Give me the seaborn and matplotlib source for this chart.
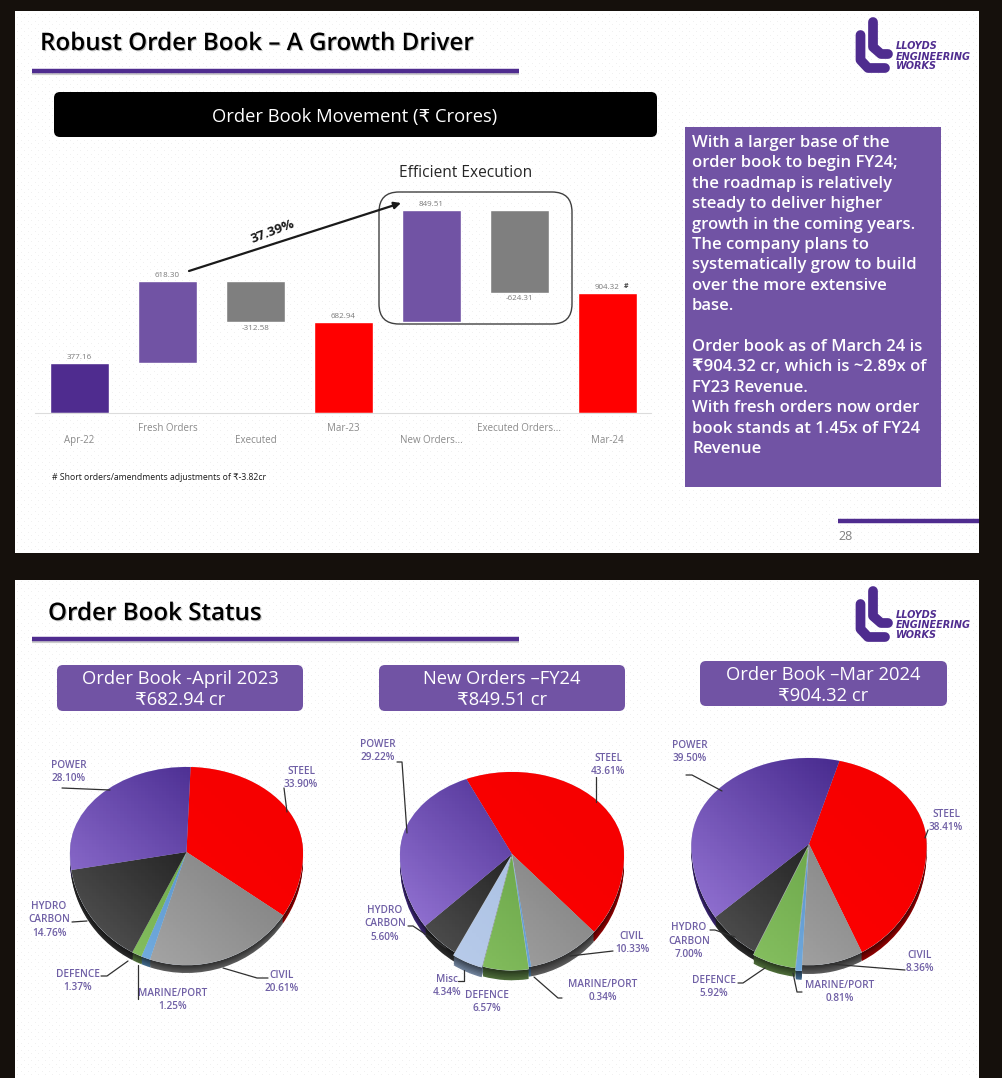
import numpy as np
import pandas as pd
import seaborn as sns
import matplotlib
matplotlib.use("Agg")
import matplotlib.pyplot as plt
import matplotlib.patheffects as pe
from matplotlib.colors import to_rgb
from matplotlib.patches import FancyBboxPatch, Rectangle

W, H = 1003, 1078

# waterfall data
move_cats = ["Apr-22", "Fresh Orders", "Executed", "Mar-23", "New Orders...", "Executed Orders...", "Mar-24"]
move_vals = [377.16, 618.30, -312.58, 682.94, 849.51, -624.31, 904.32]
move_total = [True, False, False, True, False, False, True]
move_cols = ["#4f2c8f", "#7153a4", "#7f7f7f", "#ff0000", "#7153a4", "#7f7f7f", "#ff0000"]

# pie data
pie1_names = ["STEEL", "CIVIL", "MARINE/PORT", "DEFENCE", "HYDRO\nCARBON", "POWER"]
pie1_vals = [33.90, 20.61, 1.25, 1.37, 14.76, 28.10]
pie2_names = ["STEEL", "CIVIL", "MARINE/PORT", "DEFENCE", "Misc", "HYDRO\nCARBON", "POWER"]
pie2_vals = [43.61, 10.33, 0.34, 6.57, 4.34, 5.60, 29.22]
pie3_names = ["STEEL", "CIVIL", "MARINE/PORT", "DEFENCE", "HYDRO\nCARBON", "POWER"]
pie3_vals = [38.41, 8.36, 0.81, 5.92, 7.00, 39.50]

box_lines = [
    "With a larger base of the", "order book to begin FY24;", "the roadmap is relatively",
    "steady to deliver higher", "growth in the coming years.", "The company plans to",
    "systematically grow to build", "over the more extensive", "base.", "",
    "Order book as of March 24 is", "₹904.32 cr, which is ~2.89x of", "FY23 Revenue.",
    "With fresh orders now order", "book stands at 1.45x of FY24", "Revenue",
]

# lower-left colour, upper-right colour, side colour
face = {
    "STEEL": ("#ff0000", "#f60000", "#8c0000"),
    "CIVIL": ("#a8a8a8", "#7a7a7a", "#5a5a5a"),
    "MARINE/PORT": ("#74aee0", "#4f86c0", "#3e6688"),
    "DEFENCE": ("#86c060", "#5f9a40", "#4c6b38"),
    "Misc": ("#b8cbea", "#a3bce0", "#6d7f99"),
    "HYDRO\nCARBON": ("#4e4e4e", "#0a0a0a", "#2a2a2a"),
    "POWER": ("#9272d2", "#472a8e", "#3a2570"),
}

PURPLE = "#7153a4"
DARK = "#4f2c8f"
LABEL = "#6f5fa5"

sns.set_theme(style="white")
plt.rcParams["font.family"] = ["Open Sans", "DejaVu Sans"]

fig = plt.figure(figsize=(W / 100, H / 100), dpi=100)

# slide backgrounds with the faint dotted texture
canvas = np.full((H, W, 3), to_rgb("#15100c"))
yy, xx = np.mgrid[0:H, 0:W]
dots = ((xx % 7 == 0) & (yy % 7 == 0)) | ((xx % 7 == 3) & (yy % 7 == 3))
slide = np.where(dots[..., None], 0.945, 1.0) * np.ones(3)
for y0, y1 in [(11, 553), (580, 1078)]:
    canvas[y0:y1, 15:979] = slide[y0:y1, 15:979]
fig.figimage(canvas, 0, 0, origin="upper", zorder=-1)


def px_axes(x0, y0, x1, y1, **kw):
    ax = fig.add_axes([x0 / W, 1 - y1 / H, (x1 - x0) / W, (y1 - y0) / H], **kw)
    ax.patch.set_alpha(0)
    return ax


bg = px_axes(0, 0, W, H, zorder=1)
bg.set_xlim(0, W)
bg.set_ylim(H, 0)
bg.axis("off")

fg = px_axes(0, 0, W, H, zorder=5)
fg.set_xlim(0, W)
fg.set_ylim(H, 0)
fg.axis("off")


def rounded(x0, y0, x1, y1, r, col):
    bg.add_patch(FancyBboxPatch((x0 + r, y0 + r), x1 - x0 - 2 * r, y1 - y0 - 2 * r,
                                boxstyle=f"round,pad={r},rounding_size={r}", fc=col, ec="none"))


def logo(dy):
    lw = 7.0
    bg.plot([860.5, 860.5, 868, 885], [35 + dy, 60 + dy, 68 + dy, 68 + dy], color=DARK, lw=lw,
            solid_capstyle="round", solid_joinstyle="round")
    bg.plot([873, 873, 881, 888], [22 + dy, 47 + dy, 54 + dy, 54 + dy], color=DARK, lw=lw,
            solid_capstyle="round", solid_joinstyle="round")
    for y, s in [(46, "LLOYDS"), (56.5, "ENGINEERING"), (66, "WORKS")]:
        bg.text(896, y + dy, s, color=DARK, fontsize=7, fontweight="bold", style="italic",
                family="DejaVu Sans", va="center", ha="left")


def title_bar(text, x, y, bar_y):
    bg.text(x, y, text, fontsize=17.4, fontweight="semibold", color="black", va="center",
            path_effects=[pe.withSimplePatchShadow(offset=(0.8, -0.8), alpha=0.25)])
    bg.plot([32, 519], [bar_y + 1.5, bar_y + 1.5], color="#9a9a9a", lw=3, alpha=0.5,
            solid_capstyle="butt")
    bg.plot([32, 519], [bar_y, bar_y], color=DARK, lw=3.2, solid_capstyle="butt")


title_bar("Robust Order Book – A Growth Driver", 40, 44, 71)
title_bar("Order Book Status", 48, 614, 639)
logo(0)
logo(569)

bg.plot([838, 979], [521, 521], color=DARK, lw=3.2, solid_capstyle="butt")
bg.text(846, 537, "28", color="#808080", fontsize=9, ha="center", va="center")

rounded(54, 92, 657, 137, 6, "black")
bg.text(355, 117, "Order Book Movement (₹ Crores)", color="white", fontsize=13.2, ha="center", va="center")
bg.text(466, 173, "Efficient Execution", color="#262626", fontsize=11.2, ha="center", va="center")
bg.text(52, 477, "# Short orders/amendments adjustments of ₹-3.82cr", color="#1a1a1a", fontsize=6.2,
        va="center")

# right hand text box
bg.add_patch(Rectangle((685, 127), 256, 360, fc=PURPLE, ec="none"))
for i, line in enumerate(box_lines):
    bg.text(692, 143 + 20.4 * i, line, color="white", fontsize=12, fontweight="semibold", va="center")

# pill headers
for x0, y0, x1, y1, head, sub in [
    (57, 665, 303, 711, "Order Book -April 2023", "₹682.94 cr"),
    (379, 665, 625, 711, "New Orders –FY24", "₹849.51 cr"),
    (700, 661, 947, 706, "Order Book –Mar 2024", "₹904.32 cr"),
]:
    rounded(x0, y0, x1, y1, 6, PURPLE)
    bg.text((x0 + x1) / 2, y0 + 14, head, color="white", fontsize=13.2, ha="center", va="center")
    bg.text((x0 + x1) / 2, y0 + 35, sub, color="white", fontsize=13.2, ha="center", va="center")

# waterfall
ax = px_axes(35.5, 130, 651.5, 413, zorder=2)
run = 0
bottoms = []
for val, tot in zip(move_vals, move_total):
    if tot:
        bottoms.append(0)
        run = val
    else:
        bottoms.append(run + min(val, 0))
        run += val
for cat, val, bot, col in zip(move_cats, move_vals, bottoms, move_cols):
    sns.barplot(x=[cat], y=[abs(val)], order=move_cats, color=col, saturation=1, width=0.67,
                bottom=bot, errorbar=None, ax=ax)
ax.set_xlim(-0.5, 6.5)
ax.set_ylim(0, 283 * 7.54)
ax.set_xlabel("")
ax.set_ylabel("")
ax.set_yticks([])
ax.set_xticks(range(len(move_cats)))
ax.set_xticklabels(move_cats, fontsize=7, color="#8a8a8a")
ax.tick_params(axis="x", length=0)
for i, tick in enumerate(ax.xaxis.get_major_ticks()):
    tick.set_pad(16 if i % 2 == 0 else 7)
sns.despine(ax=ax, left=True)
ax.spines["bottom"].set_color("#dcdcdc")
ax.spines["bottom"].set_linewidth(0.8)
for i, (val, bot) in enumerate(zip(move_vals, bottoms)):
    y = bot + val if val > 0 else bot
    off = 1.5 if val > 0 else -2
    ax.annotate(f"{val:.2f}", (i, y), xytext=(0, off), textcoords="offset points", ha="center",
                va="bottom" if val > 0 else "top", fontsize=5.8, color="#7a7a7a")
fg.text(626, 286, "#", fontsize=5, color="#444444", ha="center", va="center", fontweight="bold")

# callouts on the waterfall
fg.add_patch(FancyBboxPatch((399, 212), 153, 92, boxstyle="round,pad=20,rounding_size=20",
                            fc="none", ec="#404040", lw=1))
fg.annotate("", xy=(401, 203), xytext=(189, 271),
            arrowprops=dict(arrowstyle="-|>", color="#1a1a1a", lw=1.6, mutation_scale=10, shrinkA=0, shrinkB=0))
fg.text(273, 232, "37.39%", fontsize=9.5, fontweight="bold", color="#1a1a1a", rotation=21,
        ha="center", va="center")


def shade(col, f):
    return tuple(c * f for c in to_rgb(col))


def draw_pie(names, vals, start, cx, cy, rx, up, down, rim, explode):
    # top half of the disc is foreshortened more than the bottom half, so the y scale has a kink at 0
    fwd = lambda y: np.where(np.asarray(y) > 0, np.asarray(y) * up, np.asarray(y) * down)
    inv = lambda y: np.where(np.asarray(y) > 0, np.asarray(y) / up, np.asarray(y) / down)
    a = px_axes(cx - 1.2 * rx, cy - 1.2 * up, cx + 1.2 * rx, cy + 1.4 * down, zorder=3)
    t = rim / down
    for k in np.linspace(1, 0.1, 7):
        cols = [shade(face[n][2], 1.0 - 0.55 * (1 - k)) for n in names]
        a.pie(vals, startangle=start, counterclock=False, colors=cols, explode=explode,
              center=(0, -k * t), wedgeprops=dict(linewidth=0))
    wedges, _ = a.pie(vals, startangle=start, counterclock=False, explode=explode, center=(0, 0),
                      colors=[face[n][0] for n in names], wedgeprops=dict(linewidth=0.4, edgecolor="#dfe6f0"))
    a.set_autoscale_on(False)
    u, v = np.meshgrid(np.linspace(0, 1, 80), np.linspace(0, 1, 80))
    ramp = np.clip((u + v - 0.45) / 1.1, 0, 1)[..., None]
    for w, n in zip(wedges, names):
        c0, c1 = np.array(to_rgb(face[n][0])), np.array(to_rgb(face[n][1]))
        im = a.imshow(c0 + (c1 - c0) * ramp, extent=(0, 1, 0, 1), origin="lower", aspect="auto",
                      transform=a.transAxes, zorder=w.get_zorder() + 0.1)
        im.set_clip_path(w)
    a.set_aspect("auto")
    a.set_yscale("function", functions=(fwd, inv))
    a.set_xlim(-1.2, 1.2)
    a.set_ylim(-1.4, 1.2)
    a.axis("off")


def pie_labels(names, vals, spots, leaders):
    for name, val, (x, y) in zip(names, vals, spots):
        fg.text(x, y + 1, f"{name}\n{val:.2f}%", color=LABEL, fontsize=7.2, fontweight="semibold",
                ha="center", va="center", linespacing=1.3)
    for pts in leaders:
        fg.plot(*zip(*pts), color="#303030", lw=0.9)


draw_pie(pie1_names, pie1_vals, 88, 186.5, 852, 116.5, 85, 113, 8, [0] * 6)
pie_labels(pie1_names, pie1_vals,
           [(301, 777), (282, 981), (173, 999), (78, 980), (49, 919), (69, 771)],
           [[(284, 788), (287, 812)], [(268, 978), (257, 978), (223, 968)], [(138, 999), (138, 965)],
            [(101, 976), (107, 976), (128, 961)], [(72, 922), (87, 921)], [(62, 788), (110, 790)]])

draw_pie(pie2_names, pie2_vals, 114, 512, 854, 112, 82, 114, 10, [0, 0, 0, 0.02, 0.03, 0, 0])
pie_labels(pie2_names, pie2_vals,
           [(608, 764), (632, 942), (603, 990), (487, 1001), (447, 985), (385, 923), (378, 750)],
           [[(596, 777), (596, 802)], [(613, 951), (570, 956)], [(562, 998), (558, 998), (534, 977)],
            [(458, 981), (464, 981), (464, 970)], [(408, 926), (413, 926), (446, 948)],
            [(397, 762), (402, 762), (407, 833)]])

draw_pie(pie3_names, pie3_vals, 75, 809, 844, 117.5, 86, 121, 9, [0, 0, 0.05, 0.03, 0, 0])
pie_labels(pie3_names, pie3_vals,
           [(946, 820), (920, 961), (840, 991), (714, 986), (689, 940), (690, 751)],
           [[(928, 830), (925, 838)], [(905, 970), (830, 964)], [(802, 992), (797, 992), (793, 973)],
            [(738, 983), (743, 983), (765, 968)], [(710, 930), (715, 930), (735, 937)],
            [(686, 775), (692, 775), (722, 791)]])

fig.savefig("out.png", dpi=100)
